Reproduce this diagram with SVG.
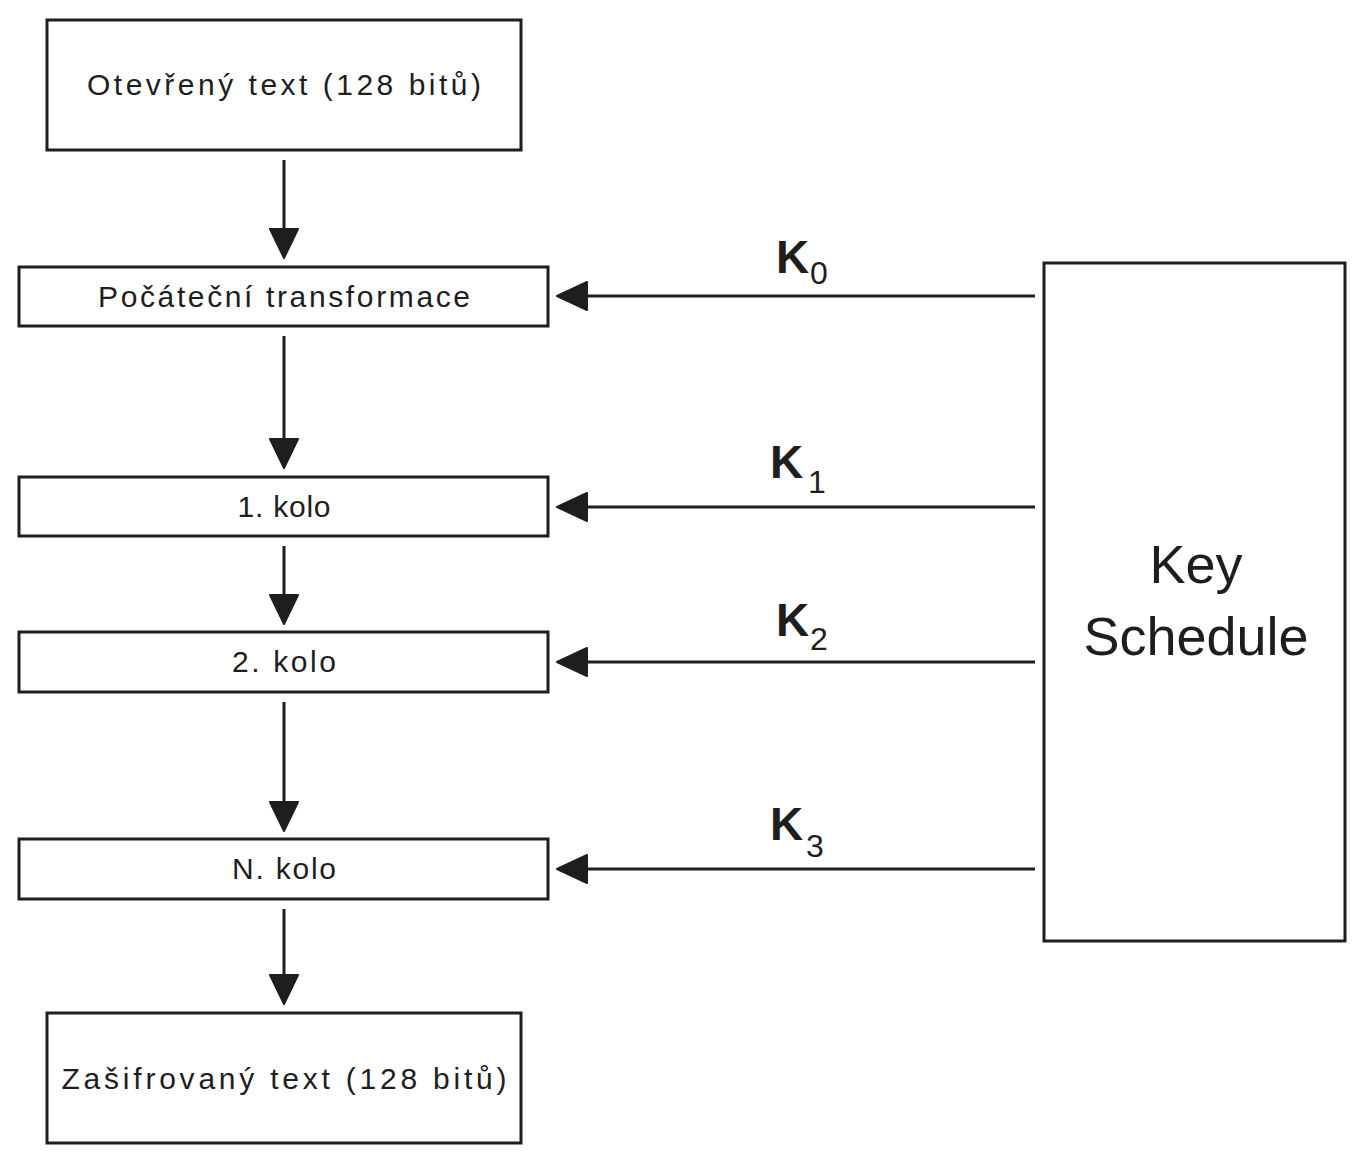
<svg xmlns="http://www.w3.org/2000/svg" width="1364" height="1163" viewBox="0 0 1364 1163">
<style>
.box{fill:#fff;stroke:#1e1e1e;stroke-width:3}
.t{font-family:"Liberation Sans",Arial,sans-serif;font-size:30px;fill:#1e1e1e;text-anchor:middle;dominant-baseline:central}
.big{font-family:"Liberation Sans",Arial,sans-serif;font-size:54px;fill:#1e1e1e;text-anchor:middle}
.k{font-family:"Liberation Sans",Arial,sans-serif;font-size:46px;font-weight:bold;fill:#1e1e1e}
.s{font-family:"Liberation Sans",Arial,sans-serif;font-size:32px;fill:#1e1e1e}
.c{stroke:#1e1e1e;stroke-width:3;fill:none}
.h{fill:#1e1e1e;stroke:#1e1e1e;stroke-width:2;stroke-linejoin:round}
</style>
<rect width="1364" height="1163" fill="#fff"/>
<g id="connectors">
<line class="c" x1="284" y1="160" x2="284" y2="232"/><polygon class="h" points="270,229 298,229 284,258"/>
<line class="c" x1="284" y1="336" x2="284" y2="442"/><polygon class="h" points="270,439 298,439 284,468"/>
<line class="c" x1="284" y1="546" x2="284" y2="598"/><polygon class="h" points="270,595 298,595 284,624"/>
<line class="c" x1="284" y1="702" x2="284" y2="805"/><polygon class="h" points="270,802 298,802 284,831"/>
<line class="c" x1="284" y1="909" x2="284" y2="978"/><polygon class="h" points="270,975 298,975 284,1004"/>
<line class="c" x1="1035" y1="296" x2="584" y2="296"/><polygon class="h" points="587,282 587,310 557,296"/>
<line class="c" x1="1035" y1="507" x2="584" y2="507"/><polygon class="h" points="587,493 587,521 557,507"/>
<line class="c" x1="1035" y1="662" x2="584" y2="662"/><polygon class="h" points="587,648 587,676 557,662"/>
<line class="c" x1="1035" y1="869" x2="584" y2="869"/><polygon class="h" points="587,855 587,883 557,869"/>
<text class="k" x="776" y="273">K</text><text class="s" x="810" y="284">0</text>
<text class="k" x="770" y="478">K</text><text class="s" x="808" y="493">1</text>
<text class="k" x="776" y="636">K</text><text class="s" x="810" y="650">2</text>
<text class="k" x="770" y="840">K</text><text class="s" x="806" y="857">3</text>
</g>
<g id="plaintext"><rect class="box" x="47" y="20" width="474" height="130"/><text class="t" x="284" y="84" textLength="394" lengthAdjust="spacing">Otevřený text (128 bitů)</text></g>
<g id="initial"><rect class="box" x="19" y="267" width="529" height="59"/><text class="t" x="284" y="296" textLength="372" lengthAdjust="spacing">Počáteční transformace</text></g>
<g id="round1"><rect class="box" x="19" y="477" width="529" height="59"/><text class="t" x="284" y="506" textLength="93" lengthAdjust="spacing">1. kolo</text></g>
<g id="round2"><rect class="box" x="19" y="632" width="529" height="60"/><text class="t" x="284" y="661" textLength="104" lengthAdjust="spacing">2. kolo</text></g>
<g id="roundN"><rect class="box" x="19" y="839" width="529" height="60"/><text class="t" x="284" y="868" textLength="104" lengthAdjust="spacing">N. kolo</text></g>
<g id="ciphertext"><rect class="box" x="47" y="1013" width="474" height="130"/><text class="t" x="284" y="1078" textLength="445" lengthAdjust="spacing">Zašifrovaný text (128 bitů)</text></g>
<g id="keyschedule"><rect class="box" x="1044" y="263" width="301" height="678"/><text class="big" x="1196" y="583">Key</text><text class="big" x="1196" y="655">Schedule</text></g>
</svg>
